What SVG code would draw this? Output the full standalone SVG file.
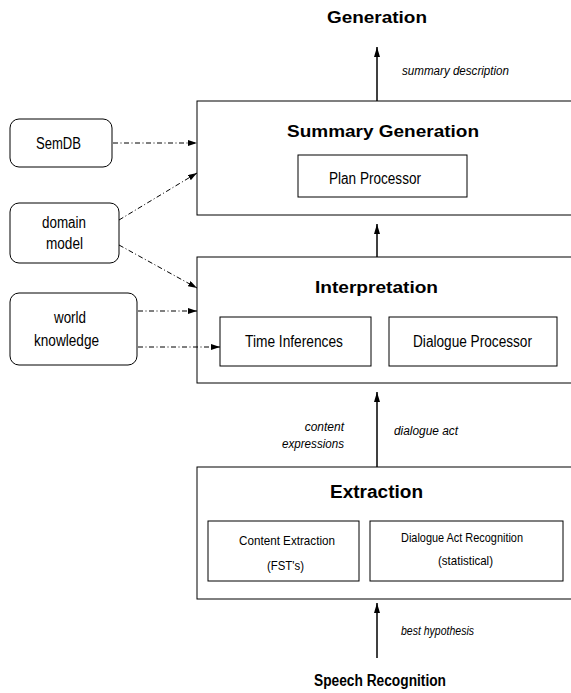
<svg xmlns="http://www.w3.org/2000/svg" width="571" height="693" viewBox="0 0 571 693">
<defs>
<style>
text{font-family:"Liberation Sans",Arial,sans-serif;fill:#000}
.t{font-size:16px}
.s{font-size:13px}
.b{font-size:17px;font-weight:bold}
.i{font-size:12px;font-style:italic}
.box{fill:#fff;stroke:#000;stroke-width:1}
.src{fill:#fff;stroke:#000;stroke-width:1}
.dd{fill:none;stroke:#000;stroke-width:1;stroke-dasharray:5 2.5 1 2.5}
.sl{fill:none;stroke:#000;stroke-width:1.5}
</style>
<marker id="ah" markerUnits="userSpaceOnUse" viewBox="0 0 10 6" refX="10" refY="3" markerWidth="10" markerHeight="6" orient="auto">
<path d="M0,0 L10,3 L0,6 Z" fill="#000"/>
</marker>
<marker id="ahs" markerUnits="userSpaceOnUse" viewBox="0 0 9 6" refX="9" refY="3" markerWidth="9" markerHeight="6" orient="auto">
<path d="M0,0 L9,3 L0,6 Z" fill="#000"/>
</marker>
</defs>
<rect width="571" height="693" fill="#fff"/>

<text class="b" x="327" y="23" textLength="100" lengthAdjust="spacingAndGlyphs" style="font-size:16px">Generation</text>
<text class="b" x="314" y="686" textLength="132" lengthAdjust="spacingAndGlyphs" style="font-size:16px">Speech Recognition</text>

<g id="summary-generation">
<rect class="box" x="197" y="101" width="380" height="114"/>
<text class="b" x="287" y="137" textLength="192" lengthAdjust="spacingAndGlyphs">Summary Generation</text>
</g>
<g id="plan-processor">
<rect class="box" x="298" y="155" width="169" height="42"/>
<text class="t" x="329" y="184" textLength="92" lengthAdjust="spacingAndGlyphs">Plan Processor</text>
</g>

<g id="interpretation">
<rect class="box" x="197" y="257" width="380" height="126"/>
<text class="b" x="315" y="293" textLength="123" lengthAdjust="spacingAndGlyphs">Interpretation</text>
</g>
<g id="time-inferences">
<rect class="box" x="220" y="317" width="151" height="49"/>
<text class="t" x="245" y="347" textLength="98" lengthAdjust="spacingAndGlyphs">Time Inferences</text>
</g>
<g id="dialogue-processor">
<rect class="box" x="389" y="317" width="168" height="49"/>
<text class="t" x="413" y="347" textLength="119" lengthAdjust="spacingAndGlyphs">Dialogue Processor</text>
</g>

<g id="extraction">
<rect class="box" x="197" y="467" width="380" height="132"/>
<text class="b" x="330" y="498" textLength="93" lengthAdjust="spacingAndGlyphs" style="font-size:18px">Extraction</text>
</g>
<g id="content-extraction">
<rect class="box" x="208" y="521" width="151" height="60"/>
<text class="s" x="239" y="545" textLength="96" lengthAdjust="spacingAndGlyphs">Content Extraction</text>
<text class="s" x="267" y="570" textLength="37" lengthAdjust="spacingAndGlyphs">(FST's)</text>
</g>
<g id="dialogue-act-recognition">
<rect class="box" x="370" y="521" width="193" height="60"/>
<text class="s" x="401" y="542" textLength="122" lengthAdjust="spacingAndGlyphs">Dialogue Act Recognition</text>
<text class="s" x="438" y="565" textLength="55" lengthAdjust="spacingAndGlyphs">(statistical)</text>
</g>

<g id="semdb">
<rect class="src" x="10" y="119" width="102" height="48" rx="9"/>
<text class="t" x="36" y="149" textLength="45" lengthAdjust="spacingAndGlyphs">SemDB</text>
</g>
<g id="domain-model">
<rect class="src" x="10" y="203" width="109" height="60" rx="9"/>
<text class="t" x="42" y="228" textLength="44" lengthAdjust="spacingAndGlyphs">domain</text>
<text class="t" x="46" y="249" textLength="37" lengthAdjust="spacingAndGlyphs">model</text>
</g>
<g id="world-knowledge">
<rect class="src" x="10" y="293" width="127" height="72" rx="9"/>
<text class="t" x="54" y="323" textLength="32" lengthAdjust="spacingAndGlyphs">world</text>
<text class="t" x="34" y="346" textLength="65" lengthAdjust="spacingAndGlyphs">knowledge</text>
</g>

<g id="connectors">
<path class="sl" d="M377,101 L377,47" stroke-width="2.5" marker-end="url(#ah)"/>
<path class="sl" d="M377,257 L377,224" marker-end="url(#ah)"/>
<path class="sl" d="M377,467 L377,392" marker-end="url(#ah)"/>
<path class="sl" d="M377,658 L377,603" marker-end="url(#ah)"/>
<path class="dd" d="M113,143 L197,143" marker-end="url(#ahs)"/>
<path class="dd" d="M119,220 L197,173" marker-end="url(#ahs)"/>
<path class="dd" d="M119,245 L197,288" marker-end="url(#ahs)"/>
<path class="dd" d="M138,311 L197,311" marker-end="url(#ahs)"/>
<path class="dd" d="M138,347 L220,347" marker-end="url(#ahs)"/>
</g>

<text class="i" x="402" y="75" textLength="107" lengthAdjust="spacingAndGlyphs">summary description</text>
<text class="i" x="344" y="431" text-anchor="end">content</text>
<text class="i" x="282" y="448" textLength="62" lengthAdjust="spacingAndGlyphs">expressions</text>
<text class="i" x="394" y="435" textLength="64" lengthAdjust="spacingAndGlyphs">dialogue act</text>
<text class="i" x="401" y="635" textLength="73" lengthAdjust="spacingAndGlyphs">best hypothesis</text>
</svg>
